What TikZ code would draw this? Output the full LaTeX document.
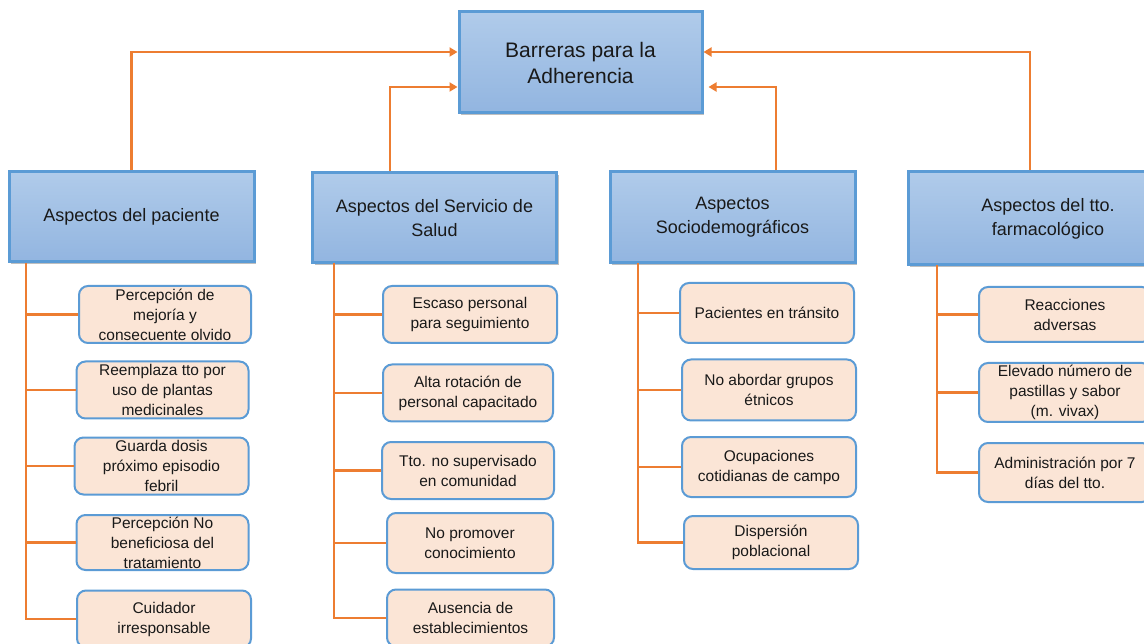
\documentclass[tikz,border=0pt]{standalone}
\usepackage{fontspec}
\setmainfont{Liberation Sans}
\usetikzlibrary{arrows.meta,shadows}
\definecolor{azulborde}{HTML}{5B9BD5}
\definecolor{azularriba}{HTML}{B0CBEA}
\definecolor{azulabajo}{HTML}{92B5E0}
\definecolor{durazno}{HTML}{FBE5D6}
\definecolor{naranja}{HTML}{ED7D31}
\begin{document}
\begin{tikzpicture}[x=1pt, y=-1pt, >={Triangle[length=8pt,width=9pt]},
    barrera/.style={draw=azulborde, line width=3pt, top color=azularriba, bottom color=azulabajo,
        drop shadow={shadow xshift=2pt, shadow yshift=-2pt, opacity=0.25, fill=black},
        align=center, inner sep=0pt, text=black!90},
    factor/.style={draw=azulborde, line width=2pt, fill=durazno, rounded corners=9pt,
        minimum width=172pt, minimum height=57pt, inner sep=0pt, align=center, text=black!90,
        font=\fontsize{15.5}{20}\selectfont},
    flecha/.style={->, naranja, line width=2.6pt},
    rama/.style={naranja, line width=2.4pt}]
    \useasboundingbox (0,0) rectangle (1144,644);
    \clip (0,0) rectangle (1144,644);
    \node [barrera, minimum width=243pt, minimum height=101pt, font=\fontsize{21}{26}\selectfont]
        (barreras) at (580.5,62.5) {Barreras para la\\Adherencia};
    \node [barrera, minimum width=245pt, minimum height=90pt, font=\fontsize{18}{24}\selectfont]
        (pac) at (131.5,217) {Aspectos del paciente};
    \node [barrera, minimum width=244pt, minimum height=90pt, font=\fontsize{18}{24}\selectfont]
        (serv) at (434.5,218) {Aspectos del Servicio de\\Salud};
    \node [barrera, minimum width=245pt, minimum height=91pt, font=\fontsize{18}{24}\selectfont]
        (socio) at (732.5,217.5) {Aspectos\\Sociodemográficos};
    \node [barrera, minimum width=280pt, minimum height=93pt, font=\fontsize{18}{24}\selectfont]
        (farm) at (1048,218.5) {Aspectos del tto.\\farmacológico};
    \draw [flecha] (pac.north) |- ([yshift=10.5pt]barreras.west);
    \draw [flecha] ([xshift=-44.5pt]serv.north) |- ([yshift=-24.5pt]barreras.west);
    \draw [flecha, shorten >=5pt] ([xshift=43.5pt]socio.north) |- ([yshift=-24.5pt]barreras.east);
    \draw [flecha] ([xshift=-18pt]farm.north) |- ([yshift=10.5pt]barreras.east);
    \node [factor] (p1) at (165,314.5) {Percepción de\\mejoría y\\consecuente olvido};
    \node [factor] (p2) at (162.5,390) {Reemplaza tto por\\uso de plantas\\medicinales};
    \node [factor, minimum width=174pt] (p3) at (161.5,466) {Guarda dosis\\próximo episodio\\febril};
    \node [factor, minimum height=55pt] (p4) at (162.5,542.5) {Percepción No\\beneficiosa del\\tratamiento};
    \node [factor, minimum width=174pt] (p5) at (164,619) {Cuidador\\irresponsable};
    \node [factor, minimum width=174pt] (s1) at (470,314.5) {Escaso personal\\para seguimiento};
    \node [factor, minimum width=170pt] (s2) at (468,393) {Alta rotación de\\personal capacitado};
    \node [factor] (s3) at (468,470.5) {Tto. no supervisado\\en comunidad};
    \node [factor, minimum width=166pt, minimum height=60pt] (s4) at (470,543) {No promover\\conocimiento};
    \node [factor, minimum width=167pt] (s5) at (470.5,618) {Ausencia de\\establecimientos};
    \node [factor, minimum width=174pt, minimum height=60pt] (d1) at (767,313) {Pacientes en tránsito};
    \node [factor, minimum width=174pt, minimum height=61pt] (d2) at (769,390) {No abordar grupos\\étnicos};
    \node [factor, minimum width=174pt, minimum height=60pt] (d3) at (769,467) {Ocupaciones\\cotidianas de campo};
    \node [factor, minimum width=174pt, minimum height=53pt] (d4) at (771,542.5) {Dispersión\\poblacional};
    \node [factor, minimum height=55pt] (f1) at (1065,314.5) {Reacciones\\adversas};
    \node [factor, minimum height=59pt] (f2) at (1065,392.5) {Elevado número de\\pastillas y sabor\\(m. vivax)};
    \node [factor, minimum height=59pt] (f3) at (1065,472.5) {Administración por 7\\días del tto.};
    \coordinate (pacbus) at (26,263);
    \coordinate (servbus) at (334,263);
    \coordinate (sociobus) at (638,263);
    \coordinate (farmbus) at (937,265);
    \draw [rama] (pacbus) |- (p5.west);
    \foreach \n in {1,...,4} \draw [rama] (pacbus |- p\n.west) -- (p\n.west);
    \draw [rama] (servbus) |- (s5.west);
    \foreach \n in {1,...,4} \draw [rama] (servbus |- s\n.west) -- (s\n.west);
    \draw [rama] (sociobus) |- (d4.west);
    \foreach \n in {1,...,3} \draw [rama] (sociobus |- d\n.west) -- (d\n.west);
    \draw [rama] (farmbus) |- (f3.west);
    \foreach \n in {1,2} \draw [rama] (farmbus |- f\n.west) -- (f\n.west);
\end{tikzpicture}
\end{document}
